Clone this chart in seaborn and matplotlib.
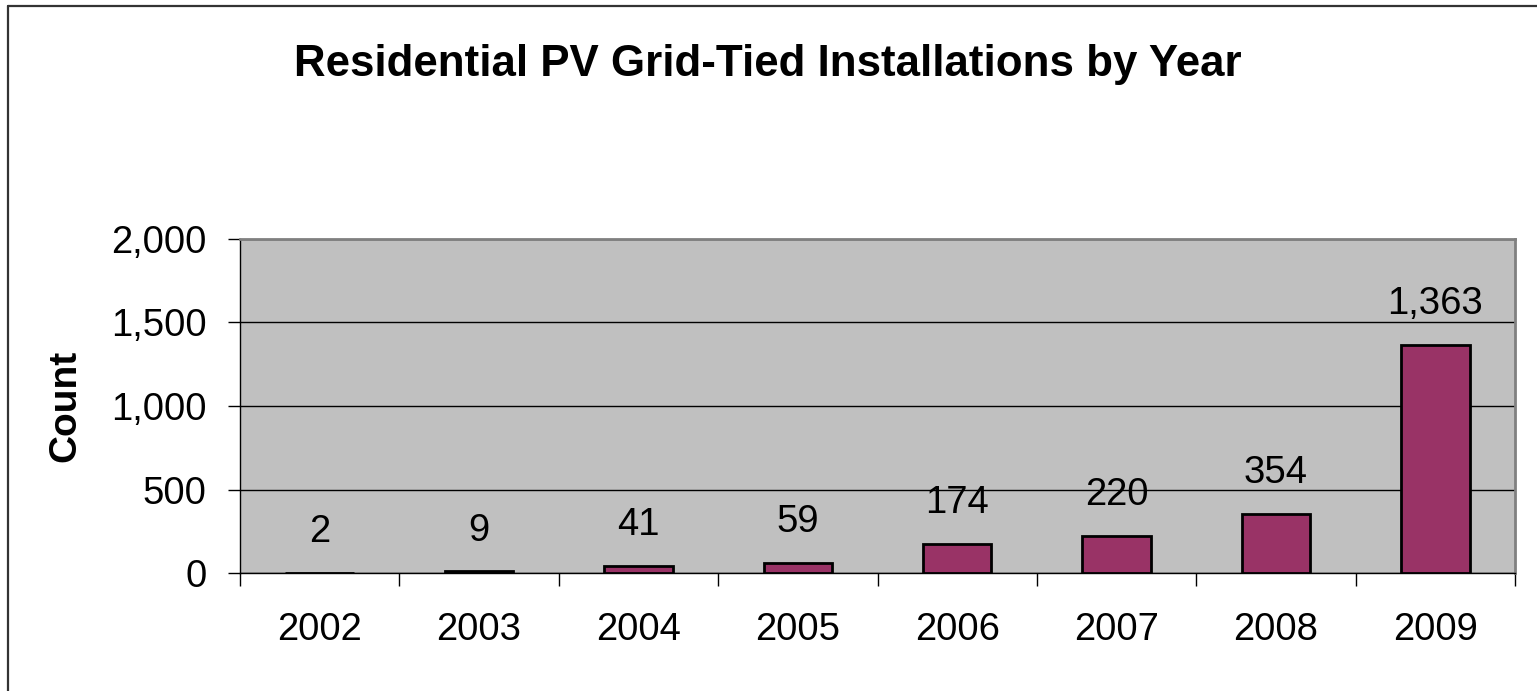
import matplotlib
matplotlib.use("Agg")
import matplotlib.pyplot as plt
from matplotlib.lines import Line2D
import seaborn as sns
import pandas as pd

# values
years = ["2002", "2003", "2004", "2005", "2006", "2007", "2008", "2009"]
counts = [2, 9, 41, 59, 174, 220, 354, 1363]
y_ticks = [0, 500, 1000, 1500, 2000]

title = "Residential PV Grid-Tied Installations by Year"
y_label = "Count"

W, H = 1537, 691
sns.set_style("white")
plt.rcParams["font.family"] = ["Liberation Sans", "DejaVu Sans"]
plt.rcParams["text.color"] = "black"
plt.rcParams["xtick.color"] = "black"
plt.rcParams["ytick.color"] = "black"
plt.rcParams["axes.labelcolor"] = "black"

df = pd.DataFrame({"Year": years, "Count": counts})

fig = plt.figure(figsize=(W / 100, H / 100), dpi=100)
ax = fig.add_axes([240 / W, 1 - 573 / H, (1515 - 240) / W, (573 - 239) / H])
ax.set_facecolor("#C0C0C0")

sns.barplot(data=df, x="Year", y="Count", color="#993366", saturation=1,
            width=0.43, edgecolor="black", linewidth=2.0, ax=ax, zorder=3)

ax.set_ylim(0, 2000)
ax.set_xlim(-0.5, len(years) - 0.5)
ax.set_yticks(y_ticks)
ax.set_yticklabels([f"{v:,}" for v in y_ticks])
ax.yaxis.grid(True, color="black", linewidth=1.0, zorder=1)
ax.set_axisbelow(True)
ax.set_xlabel("")
ax.set_ylabel("")

# data labels above each bar
for i, v in enumerate(counts):
    ax.annotate(f"{v:,}", (i, v), xytext=(0, 29.5), textcoords="offset points",
                ha="center", va="center", fontsize=27.5, color="black")

# spines
for s in ["left", "bottom"]:
    ax.spines[s].set_color("black")
    ax.spines[s].set_linewidth(1.0)
for s in ["top", "right"]:
    ax.spines[s].set_color("#808080")
    ax.spines[s].set_linewidth(2.0)
    ax.spines[s].set_visible(True)

# ticks: y ticks outward, x ticks at category boundaries
ax.tick_params(axis="y", direction="out", length=9, width=1, color="black",
               pad=15, labelsize=27.5, labelcolor="black", left=True)
ax.set_xticks([i - 0.5 for i in range(len(years) + 1)], minor=True)
ax.tick_params(axis="x", which="minor", direction="out", length=9, width=1,
               color="black", bottom=True)
ax.tick_params(axis="x", which="major", length=0, pad=28, labelsize=27.5,
               labelcolor="black")

fig.text(65 / W, 1 - 406 / H, y_label, rotation=90, ha="center", va="center",
         fontsize=28, fontweight="bold", color="black")
fig.text(768 / W, 1 - 76 / H, title, ha="center", va="baseline",
         fontsize=31.6, fontweight="bold", color="black")

# outer chart border (cropped on the right and bottom)
fig.add_artist(Line2D([8 / W, 8 / W], [0, 1 - 5.5 / H], transform=fig.transFigure,
                      color="#333333", linewidth=1.6))
fig.add_artist(Line2D([8 / W, 1], [1 - 5.5 / H, 1 - 5.5 / H], transform=fig.transFigure,
                      color="#333333", linewidth=1.6))

fig.savefig("out.png", dpi=100)
